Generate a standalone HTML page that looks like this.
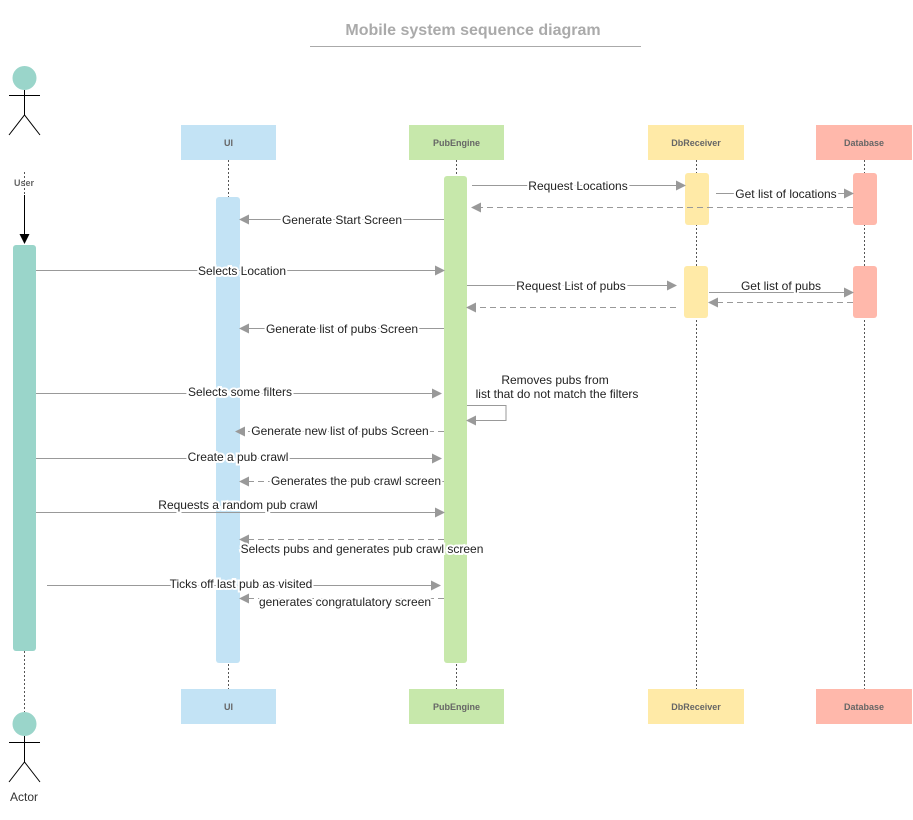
<!DOCTYPE html>
<html><head><meta charset="utf-8"><style>body{margin:0;background:#fff}svg{display:block}</style></head><body>
<svg width="913" height="820" viewBox="0 0 913 820" xmlns="http://www.w3.org/2000/svg" font-family="Liberation Sans, sans-serif">
<defs><marker id="a" markerWidth="10" markerHeight="10" refX="9" refY="5" orient="auto" markerUnits="userSpaceOnUse"><path d="M0,0 L10,5 L0,10 Z" fill="#999"/></marker>
<marker id="b" markerWidth="10" markerHeight="10" refX="9" refY="5" orient="auto" markerUnits="userSpaceOnUse"><path d="M0,0 L10,5 L0,10 Z" fill="#000"/></marker></defs>
<text x="473" y="35" text-anchor="middle" font-size="16" font-weight="bold" fill="#aaa">Mobile system sequence diagram</text>
<line x1="310" y1="46.5" x2="641" y2="46.5" stroke="#aaa"/>
<!-- lifelines -->
<g stroke="#555" stroke-dasharray="2,2" fill="none">
<line x1="24.5" y1="172" x2="24.5" y2="195"/><line x1="24.5" y1="651" x2="24.5" y2="712"/>
<line x1="228.5" y1="160" x2="228.5" y2="689"/><line x1="456.5" y1="160" x2="456.5" y2="689"/>
<line x1="696.5" y1="160" x2="696.5" y2="689"/><line x1="864.5" y1="160" x2="864.5" y2="689"/>
</g>
<!-- actor top -->
<circle cx="24.5" cy="78" r="12" fill="#9ad5ca"/>
<g stroke="#000" fill="none"><line x1="24.5" y1="90" x2="24.5" y2="115"/><line x1="9" y1="95.5" x2="40" y2="95.5"/><path d="M9,135 L24.5,115 L40,135"/></g>
<text x="24" y="186" text-anchor="middle" font-size="9" font-weight="bold" fill="#666">User</text>
<line x1="24.5" y1="195" x2="24.5" y2="243" stroke="#000" marker-end="url(#b)"/>
<!-- actor bottom -->
<circle cx="24.5" cy="724" r="12" fill="#9ad5ca"/>
<g stroke="#000" fill="none"><line x1="24.5" y1="736" x2="24.5" y2="762"/><line x1="9" y1="742.5" x2="40" y2="742.5"/><path d="M9,782 L24.5,762 L40,782"/></g>
<text x="24" y="801" text-anchor="middle" font-size="12" fill="#333">Actor</text>
<!-- headers -->
<g font-size="9" font-weight="bold" fill="#666" text-anchor="middle">
<rect x="181" y="125" width="95" height="35" fill="#c3e3f5"/><text x="228.5" y="146">UI</text>
<rect x="409" y="125" width="95" height="35" fill="#c7e8ab"/><text x="456.5" y="146">PubEngine</text>
<rect x="648" y="125" width="96" height="35" fill="#ffeaa7"/><text x="696" y="146">DbReceiver</text>
<rect x="816" y="125" width="96" height="35" fill="#ffb8ab"/><text x="864" y="146">Database</text>
<rect x="181" y="689" width="95" height="35" fill="#c3e3f5"/><text x="228.5" y="710">UI</text>
<rect x="409" y="689" width="95" height="35" fill="#c7e8ab"/><text x="456.5" y="710">PubEngine</text>
<rect x="648" y="689" width="96" height="35" fill="#ffeaa7"/><text x="696" y="710">DbReceiver</text>
<rect x="816" y="689" width="96" height="35" fill="#ffb8ab"/><text x="864" y="710">Database</text>
</g>
<!-- activations -->
<rect x="13" y="245" width="23" height="406" rx="3" fill="#9ad5ca"/>
<rect x="216" y="197" width="24" height="466" rx="3" fill="#c3e3f5"/>
<rect x="444" y="176" width="23" height="487" rx="3" fill="#c7e8ab"/>
<rect x="685" y="173" width="24" height="52" rx="3" fill="#ffeaa7"/>
<rect x="684" y="266" width="24" height="52" rx="3" fill="#ffeaa7"/>
<rect x="853" y="173" width="24" height="52" rx="3" fill="#ffb8ab"/>
<rect x="853" y="266" width="24" height="52" rx="3" fill="#ffb8ab"/>
<!-- messages -->
<g stroke="#999" fill="none" marker-end="url(#a)">
<line x1="472" y1="185.5" x2="685" y2="185.5"/>
<line x1="716" y1="193.5" x2="853" y2="193.5"/>
<line x1="853" y1="207.5" x2="472" y2="207.5" stroke-dasharray="6,4"/>
<line x1="444" y1="219.5" x2="240" y2="219.5"/>
<line x1="36" y1="270.5" x2="444" y2="270.5"/>
<line x1="467" y1="285.5" x2="676" y2="285.5"/>
<line x1="709" y1="292.5" x2="853" y2="292.5"/>
<line x1="853" y1="302.5" x2="709" y2="302.5" stroke-dasharray="6,4"/>
<line x1="676" y1="307.5" x2="467" y2="307.5" stroke-dasharray="6,4"/>
<line x1="444" y1="328.5" x2="240" y2="328.5"/>
<line x1="36" y1="393.5" x2="441" y2="393.5"/>
<path d="M467,405.5 L506,405.5 L506,420.5 L467,420.5"/>
<line x1="444" y1="431.5" x2="236" y2="431.5" stroke-dasharray="6,4"/>
<line x1="36" y1="458.5" x2="441" y2="458.5"/>
<line x1="444" y1="481.5" x2="240" y2="481.5" stroke-dasharray="6,4"/>
<line x1="36" y1="512.5" x2="444" y2="512.5"/>
<line x1="444" y1="539.5" x2="240" y2="539.5" stroke-dasharray="6,4"/>
<line x1="47" y1="585.5" x2="440" y2="585.5"/>
<line x1="444" y1="598.5" x2="240" y2="598.5" stroke-dasharray="6,4"/>
</g>
<g font-size="12" fill="#222" text-anchor="middle" stroke="#fff" stroke-width="4" paint-order="stroke">
<text x="578" y="190">Request Locations</text>
<text x="786" y="198">Get list of locations</text>
<text x="342" y="224">Generate Start Screen</text>
<text x="242" y="275">Selects Location</text>
<text x="571" y="290">Request List of pubs</text>
<text x="781" y="290">Get list of pubs</text>
<text x="342" y="333">Generate list of pubs Screen</text>
<text x="240" y="396">Selects some filters</text>
<text x="555" y="384">Removes pubs from</text>
<text x="557" y="398">list that do not match the filters</text>
<text x="340" y="435">Generate new list of pubs Screen</text>
<text x="238" y="461">Create a pub crawl</text>
<text x="356" y="485">Generates the pub crawl screen</text>
<text x="238" y="509">Requests a random pub crawl</text>
<text x="362" y="553">Selects pubs and generates pub crawl screen</text>
<text x="241" y="588">Ticks off last pub as visited</text>
<text x="345" y="606">generates congratulatory screen</text>
</g>
</svg>
</body></html>
